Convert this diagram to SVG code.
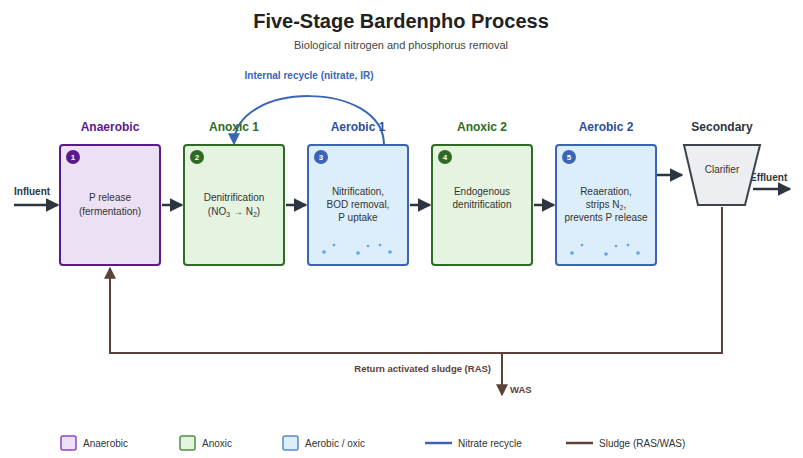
<svg xmlns="http://www.w3.org/2000/svg" width="803" height="458" viewBox="0 0 803 458">
<style>
text{font-family:"Liberation Sans",Arial,sans-serif}
.lbl{font-size:12px;font-weight:bold;text-anchor:middle}
.body{font-size:10px;fill:#333;text-anchor:middle}
.num{font-size:8px;font-weight:bold;fill:#fff;text-anchor:middle}
.leg{font-size:10px;fill:#333}
.flow{stroke:#2d3640;stroke-width:2.5;fill:none}
.dot{fill:#5aa3e6}
</style>
<defs>
<marker id="ah" viewBox="0 0 10 10" refX="9" refY="5" markerWidth="5.5" markerHeight="5.5" orient="auto"><path d="M0,0L10,5L0,10z" fill="#2d3640"/></marker>
<marker id="ahb" viewBox="0 0 10 10" refX="9" refY="5" markerWidth="6" markerHeight="6" orient="auto"><path d="M0,0L10,5L0,10z" fill="#3a65b5"/></marker>
<marker id="ahs" viewBox="0 0 10 10" refX="9" refY="5" markerWidth="6" markerHeight="6" orient="auto"><path d="M0,0L10,5L0,10z" fill="#5d4037"/></marker>
</defs>
<rect width="803" height="458" fill="#fff"/>
<text x="401" y="28" font-size="20" font-weight="bold" fill="#222" text-anchor="middle">Five-Stage Bardenpho Process</text>
<text x="401" y="49" font-size="11" fill="#444" text-anchor="middle">Biological nitrogen and phosphorus removal</text>

<g id="connectors">
<line class="flow" x1="14" y1="205" x2="58" y2="205" marker-end="url(#ah)"/>
<line class="flow" x1="162" y1="205" x2="182" y2="205" marker-end="url(#ah)"/>
<line class="flow" x1="286" y1="205" x2="306" y2="205" marker-end="url(#ah)"/>
<line class="flow" x1="410" y1="205" x2="430" y2="205" marker-end="url(#ah)"/>
<line class="flow" x1="534" y1="205" x2="554" y2="205" marker-end="url(#ah)"/>
<line class="flow" x1="657" y1="175" x2="682" y2="175" marker-end="url(#ah)"/>
<line class="flow" x1="753" y1="189" x2="790" y2="189" marker-end="url(#ah)"/>
<path d="M384,145 C384,80 234,80 234,144" fill="none" stroke="#3a65b5" stroke-width="2" marker-end="url(#ahb)"/>
<path d="M722,207 V353 H110 V268" fill="none" stroke="#5d4037" stroke-width="2" marker-end="url(#ahs)"/>
<line x1="502" y1="353" x2="502" y2="395" stroke="#5d4037" stroke-width="2" marker-end="url(#ahs)"/>
<text x="309" y="79" font-size="10" font-weight="bold" fill="#3a65b5" text-anchor="middle">Internal recycle (nitrate, IR)</text>
<text x="491" y="372" font-size="9.5" font-weight="bold" fill="#5d4037" text-anchor="end">Return activated sludge (RAS)</text>
<text x="510" y="393" font-size="9.5" font-weight="bold" fill="#5d4037">WAS</text>
<text x="14" y="195" font-size="10" font-weight="bold" fill="#2d3640">Influent</text>
<text x="750" y="181" font-size="10" font-weight="bold" fill="#2d3640">Effluent</text>
</g>

<g id="n1">
<text class="lbl" x="110" y="131" fill="#5b1a8c">Anaerobic</text>
<rect x="60" y="145" width="100" height="120" rx="3" fill="#ece0f5" stroke="#5b1a8c" stroke-width="2"/>
<circle cx="73" cy="157" r="7" fill="#5b1a8c"/><text class="num" x="73" y="160">1</text>
<text class="body" x="110" y="201">P release</text>
<text class="body" x="110" y="215">(fermentation)</text>
</g>
<g id="n2">
<text class="lbl" x="234" y="131" fill="#2e6b25">Anoxic 1</text>
<rect x="184" y="145" width="100" height="120" rx="3" fill="#e5f3e1" stroke="#2e6b25" stroke-width="2"/>
<circle cx="197" cy="157" r="7" fill="#2e6b25"/><text class="num" x="197" y="160">2</text>
<text class="body" x="234" y="201">Denitrification</text>
<text class="body" x="234" y="215">(NO<tspan font-size="7" dy="2">3</tspan><tspan dy="-2"> → N</tspan><tspan font-size="7" dy="2">2</tspan><tspan dy="-2">)</tspan></text>
</g>
<g id="n3">
<text class="lbl" x="358" y="131" fill="#2f4f9a">Aerobic 1</text>
<rect x="308" y="145" width="100" height="120" rx="3" fill="#ddeefb" stroke="#3a65b5" stroke-width="2"/>
<circle cx="321" cy="157" r="7" fill="#3a65b5"/><text class="num" x="321" y="160">3</text>
<text class="body" x="358" y="195">Nitrification,</text>
<text class="body" x="358" y="208">BOD removal,</text>
<text class="body" x="358" y="221">P uptake</text>
<circle class="dot" cx="324" cy="252" r="1.8"/><circle class="dot" cx="334" cy="245" r="1.3"/><circle class="dot" cx="358" cy="253" r="1.8"/><circle class="dot" cx="368" cy="246" r="1.3"/><circle class="dot" cx="380" cy="245" r="1.3"/><circle class="dot" cx="390" cy="252" r="1.8"/>
</g>
<g id="n4">
<text class="lbl" x="482" y="131" fill="#2e6b25">Anoxic 2</text>
<rect x="432" y="145" width="100" height="120" rx="3" fill="#e5f3e1" stroke="#2e6b25" stroke-width="2"/>
<circle cx="445" cy="157" r="7" fill="#2e6b25"/><text class="num" x="445" y="160">4</text>
<text class="body" x="482" y="195">Endogenous</text>
<text class="body" x="482" y="208">denitrification</text>
</g>
<g id="n5">
<text class="lbl" x="606" y="131" fill="#2f4f9a">Aerobic 2</text>
<rect x="556" y="145" width="100" height="120" rx="3" fill="#ddeefb" stroke="#3a65b5" stroke-width="2"/>
<circle cx="569" cy="157" r="7" fill="#3a65b5"/><text class="num" x="569" y="160">5</text>
<text class="body" x="606" y="195">Reaeration,</text>
<text class="body" x="606" y="208">strips N<tspan font-size="7" dy="2">2</tspan><tspan dy="-2">,</tspan></text>
<text class="body" x="606" y="221">prevents P release</text>
<circle class="dot" cx="572" cy="253" r="1.8"/><circle class="dot" cx="582" cy="245" r="1.3"/><circle class="dot" cx="606" cy="254" r="1.8"/><circle class="dot" cx="616" cy="246" r="1.3"/><circle class="dot" cx="628" cy="245" r="1.3"/><circle class="dot" cx="638" cy="253" r="1.8"/>
</g>
<g id="clarifier">
<text class="lbl" x="722" y="131" fill="#2d3640">Secondary</text>
<path d="M684,145 L760,145 L745,205 L698,205 Z" fill="#eceef1" stroke="#3b434b" stroke-width="2"/>
<text class="body" x="722" y="173" font-size="9">Clarifier</text>
</g>

<g id="legend">
<rect x="61" y="436" width="15" height="14" rx="2" fill="#ece0f5" stroke="#8e44c6" stroke-width="1.5"/>
<text class="leg" x="83" y="447">Anaerobic</text>
<rect x="180" y="436" width="15" height="14" rx="2" fill="#e5f3e1" stroke="#4d8f45" stroke-width="1.5"/>
<text class="leg" x="202" y="447">Anoxic</text>
<rect x="283" y="436" width="15" height="14" rx="2" fill="#ddeefb" stroke="#5a86c9" stroke-width="1.5"/>
<text class="leg" x="305" y="447">Aerobic / oxic</text>
<line x1="425" y1="443" x2="452" y2="443" stroke="#3a65b5" stroke-width="2.5"/>
<text class="leg" x="458" y="447">Nitrate recycle</text>
<line x1="566" y1="443" x2="593" y2="443" stroke="#5d4037" stroke-width="2.5"/>
<text class="leg" x="599" y="447">Sludge (RAS/WAS)</text>
</g>
</svg>
